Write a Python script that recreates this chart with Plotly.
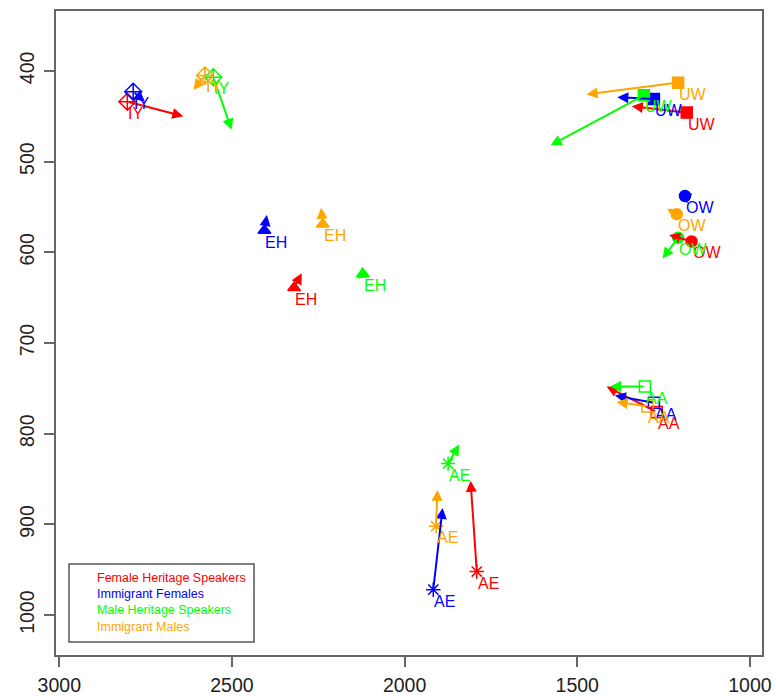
import plotly.graph_objects as go

vowels = ["IY", "UW", "OW", "EH", "AA", "AE"]
symbols = ["diamond-cross-open", "square", "circle", "triangle-up", "square-open", "asterisk-open"]
marker_sizes = [13, 11, 11, 11, 11, 12]
groups = ["Female Heritage Speakers", "Immigrant Females", "Male Heritage Speakers", "Immigrant Males"]
colors = ["#FF0000", "#0000FF", "#00FF00", "#FFA500"]

# onset (start) and offset (end) formant values per group, vowel order as above
f2_start = {
    "Female Heritage Speakers": [2803, 1183, 1169, 2320, 1270, 1791],
    "Immigrant Females":        [2786, 1278, 1188, 2406, 1278, 1917],
    "Male Heritage Speakers":   [2554, 1307, 1208, 2121, 1304, 1874],
    "Immigrant Males":          [2578, 1208, 1212, 2237, 1297, 1909],
}
f1_start = {
    "Female Heritage Speakers": [434, 446, 588, 639, 776, 952],
    "Immigrant Females":        [423, 431, 538, 576, 766, 972],
    "Male Heritage Speakers":   [407, 427, 584, 624, 748, 833],
    "Immigrant Males":          [405, 413, 558, 569, 770, 902],
}
f2_end = {
    "Female Heritage Speakers": [2641, 1342, 1234, 2298, 1415, 1809],
    "Immigrant Females":        [2752, 1384, 1203, 2399, 1391, 1890],
    "Male Heritage Speakers":   [2501, 1577, 1253, 2124, 1405, 1842],
    "Immigrant Males":          [2612, 1473, 1240, 2242, 1386, 1905],
}
f1_end = {
    "Female Heritage Speakers": [450, 439, 581, 623, 748, 852],
    "Immigrant Females":        [434, 429, 535, 559, 758, 882],
    "Male Heritage Speakers":   [465, 482, 607, 616, 748, 812],
    "Immigrant Males":          [421, 426, 552, 551, 765, 862],
}

x_ticks = [3000, 2500, 2000, 1500, 1000]
y_ticks = [400, 500, 600, 700, 800, 900, 1000]

FONT = "Liberation Sans, Arial, sans-serif"
fig = go.Figure()
annotations = []

for g, col in zip(groups, colors):
    fig.add_trace(go.Scatter(
        x=f2_start[g], y=f1_start[g], mode="markers",
        marker=dict(symbol=symbols, size=marker_sizes, color=col, opacity=1,
                    line=dict(color=col, width=1.5)),
        showlegend=False, hoverinfo="skip"))
    for i, v in enumerate(vowels):
        annotations.append(dict(
            x=f2_end[g][i], y=f1_end[g][i], ax=f2_start[g][i], ay=f1_start[g][i],
            xref="x", yref="y", axref="x", ayref="y", text="",
            showarrow=True, arrowhead=2, arrowsize=1.1, arrowwidth=2,
            arrowcolor=col, standoff=0, startstandoff=0))
        annotations.append(dict(
            x=f2_start[g][i], y=f1_start[g][i], xref="x", yref="y",
            text=v, showarrow=False, xanchor="left", yanchor="top",
            xshift=-1, yshift=-1,
            font=dict(family=FONT, size=16, color=col)))

# legend box
legend_y = [0.1196, 0.0947, 0.0699, 0.0435]
for g, col, yy in zip(groups, colors, legend_y):
    annotations.append(dict(
        x=0.0552, y=yy, xref="paper", yref="paper", text=g, showarrow=False,
        xanchor="left", yanchor="middle",
        font=dict(family=FONT, size=12.5, color=col)))

fig.add_shape(type="rect", xref="paper", yref="paper",
              x0=0.0184, x1=0.2805, y0=0.0202, y1=0.1413,
              line=dict(color="#555555", width=1.5))

fig.update_layout(
    width=776, height=696,
    margin=dict(l=56, r=14, t=11, b=41),
    paper_bgcolor="white", plot_bgcolor="white",
    annotations=annotations,
    font=dict(family=FONT, size=20, color="#222222"),
)
fig.update_xaxes(range=[3009.6, 965], tickvals=x_ticks, ticktext=[str(t) for t in x_ticks],
                 ticks="outside", ticklen=10, tickwidth=1.5, tickcolor="#666666",
                 showline=True, mirror=True, linecolor="#666666", linewidth=1.5,
                 showgrid=False, zeroline=False, ticklabelstandoff=2, automargin=False,
                 tickfont=dict(family=FONT, size=19.5, color="#222222"))
fig.update_yaxes(range=[1044, 334], tickvals=y_ticks, ticktext=[str(t) for t in y_ticks],
                 ticks="outside", ticklen=10, tickwidth=1.5, tickcolor="#666666",
                 showline=True, mirror=True, linecolor="#666666", linewidth=1.5,
                 showgrid=False, zeroline=False, tickangle=-90, ticklabelstandoff=2,
                 automargin=False,
                 tickfont=dict(family=FONT, size=19.5, color="#222222"))

fig.write_html("out.html")
